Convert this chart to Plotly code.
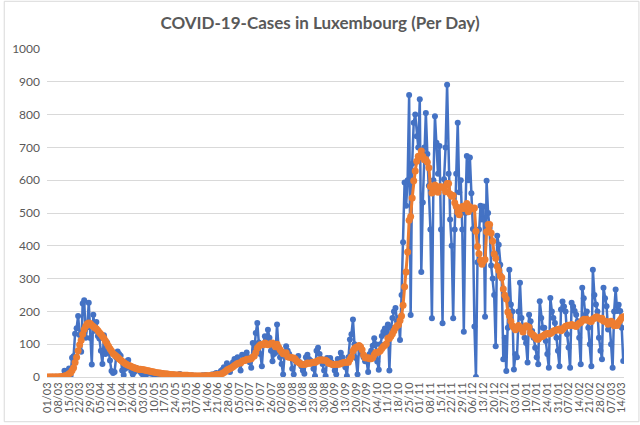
import pandas as pd
import plotly.graph_objects as go

start_date = "2020-03-01"

# daily new cases, one list per month
cases_2020_03 = [0, 0, 0, 1, 0, 1, 1, 0, 1, 1, 2, 19, 8, 17, 26, 4, 59, 63, 132, 149,
                 186, 128, 77, 224, 234, 120, 152, 226, 119, 38, 190]
cases_2020_04 = [141, 168, 125, 117, 80, 40, 127, 70, 105, 85, 50, 18, 12, 15, 60, 78, 70, 65, 20, 6,
                 25, 48, 52, 30, 18, 8, 15, 28, 25, 20]
cases_2020_05 = [15, 10, 5, 3, 8, 12, 18, 10, 14, 6, 4, 10, 8, 6, 12, 8, 3, 2, 6, 5,
                 7, 5, 8, 3, 2, 7, 9, 6, 5, 3, 1]
cases_2020_06 = [2, 4, 3, 5, 2, 4, 1, 0, 3, 2, 5, 4, 6, 3, 1, 4, 8, 6, 10, 12,
                 6, 4, 18, 22, 30, 25, 42, 28, 15, 35]
cases_2020_07 = [45, 55, 48, 60, 40, 20, 68, 62, 55, 75, 60, 45, 28, 104, 80, 134, 165, 105, 70, 33,
                 100, 124, 110, 144, 120, 80, 48, 70, 75, 160, 85]
cases_2020_08 = [60, 40, 8, 70, 94, 80, 70, 60, 25, 8, 50, 45, 64, 45, 33, 20, 10, 60, 68, 55,
                 50, 45, 25, 3, 80, 89, 70, 55, 40, 20, 3]
cases_2020_09 = [58, 50, 58, 45, 35, 20, 8, 55, 50, 74, 60, 40, 30, 3, 60, 114, 130, 175, 100, 58,
                 8, 90, 80, 70, 60, 48, 48, 15, 70, 80]
cases_2020_10 = [95, 118, 100, 47, 22, 100, 125, 138, 148, 130, 160, 20, 150, 180, 200, 210, 170, 180, 113, 250,
                 411, 593, 522, 600, 860, 189, 650, 775, 800, 734, 700]
cases_2020_11 = [847, 320, 532, 700, 805, 680, 583, 450, 179, 600, 795, 714, 620, 704, 450, 164, 603, 700, 891, 620,
                 480, 400, 179, 450, 620, 775, 563, 600, 450, 138]
cases_2020_12 = [500, 674, 600, 669, 560, 451, 154, 0, 350, 450, 522, 480, 520, 184, 598, 500, 454, 340, 300, 250,
                 94, 431, 403, 342, 300, 54, 120, 18, 150, 327, 221]
cases_2021_01 = [200, 23, 69, 60, 200, 287, 180, 140, 120, 104, 44, 190, 170, 140, 120, 89, 60, 39, 231, 180,
                 150, 150, 110, 70, 28, 241, 200, 180, 165, 120, 80]
cases_2021_02 = [33, 206, 230, 215, 200, 130, 90, 28, 226, 215, 201, 190, 170, 120, 39, 272, 240, 190, 200, 150,
                 100, 33, 327, 250, 221, 200, 120, 80]
cases_2021_03 = [54, 272, 240, 216, 145, 160, 100, 28, 200, 267, 201, 220, 201, 150, 49]

# 7-day average (orange line)
avg_2020_03 = [0, 0, 0, 0, 0, 0, 0, 0, 1, 1, 1, 3, 4, 6, 10, 12, 20, 28, 44, 60,
               80, 98, 112, 130, 145, 155, 162, 165, 163, 158, 154]
avg_2020_04 = [150, 147, 142, 136, 130, 124, 118, 110, 102, 94, 86, 79, 72, 68, 64, 60, 56, 52, 48, 44,
               41, 38, 36, 34, 32, 30, 28, 26, 25, 23]
avg_2020_05 = [24, 23, 22, 21, 20, 19, 18, 17, 16, 15, 14, 13, 12, 12, 11, 10, 10, 9, 9, 8,
               8, 7, 7, 6, 6, 6, 6, 5, 5, 5, 5]
avg_2020_06 = [5, 4, 4, 4, 3, 3, 3, 3, 3, 3, 3, 3, 4, 4, 4, 4, 5, 5, 6, 7,
               8, 8, 9, 11, 14, 17, 21, 24, 26, 28]
avg_2020_07 = [31, 35, 38, 41, 43, 43, 48, 50, 50, 54, 54, 55, 56, 61, 64, 75, 88, 94, 98, 99,
               98, 104, 101, 98, 100, 102, 104, 99, 92, 100, 91]
avg_2020_08 = [83, 77, 71, 71, 74, 62, 60, 60, 58, 58, 55, 48, 46, 42, 39, 38, 38, 40, 43, 42,
               42, 44, 45, 44, 47, 50, 52, 52, 52, 51, 51]
avg_2020_09 = [48, 42, 41, 39, 38, 38, 39, 39, 39, 41, 43, 44, 45, 45, 45, 54, 62, 79, 87, 91,
               92, 96, 92, 83, 67, 59, 58, 59, 56, 56]
avg_2020_10 = [59, 68, 75, 75, 76, 80, 87, 93, 97, 101, 118, 117, 124, 132, 141, 150, 156, 159, 172, 186,
               219, 275, 320, 381, 478, 489, 546, 598, 628, 658, 673]
avg_2020_11 = [671, 689, 673, 662, 663, 655, 638, 581, 561, 571, 585, 572, 563, 580, 580, 578, 579, 565, 590, 590,
               558, 551, 553, 531, 520, 503, 495, 512, 520, 514]
avg_2020_12 = [521, 529, 504, 519, 513, 513, 515, 444, 398, 376, 355, 344, 354, 358, 443, 465, 465, 439, 414, 375,
               362, 338, 325, 309, 303, 268, 249, 238, 198, 187, 170]
avg_2021_01 = [156, 151, 144, 150, 157, 151, 146, 137, 151, 156, 154, 152, 135, 130, 127, 122, 116, 115, 121, 123,
               124, 128, 131, 133, 131, 133, 136, 140, 142, 143, 145]
avg_2021_02 = [146, 141, 145, 150, 155, 156, 158, 157, 160, 158, 156, 154, 160, 164, 166, 172, 176, 174, 176, 173,
               170, 169, 177, 179, 183, 183, 179, 176]
avg_2021_03 = [179, 171, 170, 169, 161, 167, 170, 166, 156, 159, 157, 168, 174, 181, 184]

daily_cases = (cases_2020_03 + cases_2020_04 + cases_2020_05 + cases_2020_06 + cases_2020_07
               + cases_2020_08 + cases_2020_09 + cases_2020_10 + cases_2020_11 + cases_2020_12
               + cases_2021_01 + cases_2021_02 + cases_2021_03)
seven_day_avg = (avg_2020_03 + avg_2020_04 + avg_2020_05 + avg_2020_06 + avg_2020_07
                 + avg_2020_08 + avg_2020_09 + avg_2020_10 + avg_2020_11 + avg_2020_12
                 + avg_2021_01 + avg_2021_02 + avg_2021_03)

dates = pd.date_range(start_date, periods=len(daily_cases), freq="D")

grey = "#595959"
grid = "#D9D9D9"

fig = go.Figure()
fig.add_trace(go.Scatter(
    x=dates, y=daily_cases, mode="lines+markers", name="Cases",
    line=dict(color="#4472C4", width=2.5),
    marker=dict(color="#4472C4", size=6),
))
fig.add_trace(go.Scatter(
    x=dates, y=seven_day_avg, mode="lines+markers", name="7-day average",
    line=dict(color="#ED7D31", width=3),
    marker=dict(color="#ED7D31", size=7),
))

x_start = dates[0] - pd.Timedelta(hours=12)
x_end = dates[-1] + pd.Timedelta(hours=12)

fig.update_layout(
    width=640, height=425,
    margin=dict(l=44, r=16, t=49, b=46),
    paper_bgcolor="white", plot_bgcolor="white",
    showlegend=False,
    font=dict(family="Lato, Open Sans, sans-serif", color=grey, size=12),
    title=dict(text="<b>COVID-19-Cases in Luxembourg (Per Day)</b>",
               x=0.5, xanchor="center", y=0.945, yanchor="middle",
               font=dict(size=17, color=grey)),
    xaxis=dict(
        type="date", range=[x_start, x_end],
        tick0=start_date, dtick=7 * 86400000, tickformat="%d/%m",
        tickangle=-90, tickfont=dict(size=11, color=grey),
        showgrid=False, showline=True, linecolor=grid, linewidth=1,
        ticks="", zeroline=False,
    ),
    yaxis=dict(
        range=[0, 1000], tickvals=list(range(0, 1001, 100)),
        showgrid=True, gridcolor=grid, gridwidth=1,
        zeroline=False, showline=False, ticks="",
        tickfont=dict(size=12, color=grey), ticklabelstandoff=6,
    ),
    shapes=[dict(type="rect", xref="paper", yref="paper",
                 x0=(1 - 44) / 580, x1=(639 - 44) / 580,
                 y0=(379 - 424) / 330, y1=(379 - 1) / 330,
                 line=dict(color=grid, width=1), fillcolor="rgba(0,0,0,0)",
                 layer="below")],
)

# the page body has a default margin; drop it so the chart sits at the window corner
fig.write_html("out.html", config={"displayModeBar": False},
               post_script="document.body.style.margin='0';")
